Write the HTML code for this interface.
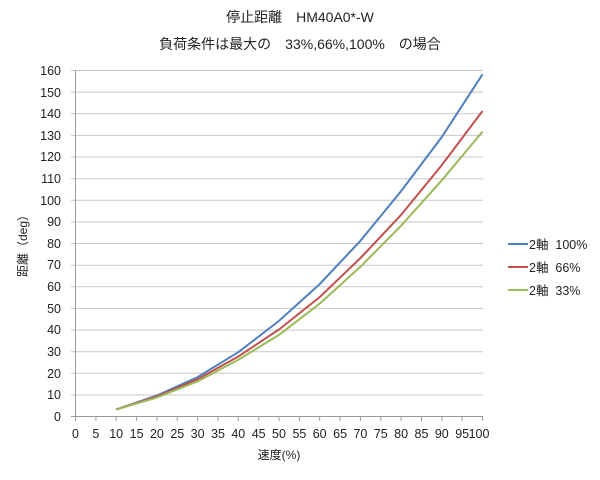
<!DOCTYPE html>
<html><head><meta charset="utf-8"><style>
body{margin:0;background:#fff}
svg text{font-family:"Liberation Sans","Noto Sans CJK JP",sans-serif;fill:#222}
</style></head><body>
<svg width="600" height="475" xmlns="http://www.w3.org/2000/svg">
<text x="300" y="22" font-size="14" text-anchor="middle">停止距離　HM40A0*-W</text>
<text x="300" y="49" font-size="14" text-anchor="middle">負荷条件は最大の　33%,66%,100%　の場合</text>
<g stroke="#c8c8c8" stroke-width="1">
<line x1="71" y1="70.5" x2="483" y2="70.5"/><line x1="71" y1="92.1" x2="483" y2="92.1"/><line x1="71" y1="113.8" x2="483" y2="113.8"/><line x1="71" y1="135.4" x2="483" y2="135.4"/><line x1="71" y1="157" x2="483" y2="157"/><line x1="71" y1="178.7" x2="483" y2="178.7"/><line x1="71" y1="200.3" x2="483" y2="200.3"/><line x1="71" y1="221.9" x2="483" y2="221.9"/><line x1="71" y1="243.5" x2="483" y2="243.5"/><line x1="71" y1="265.2" x2="483" y2="265.2"/><line x1="71" y1="286.8" x2="483" y2="286.8"/><line x1="71" y1="308.4" x2="483" y2="308.4"/><line x1="71" y1="330.1" x2="483" y2="330.1"/><line x1="71" y1="351.7" x2="483" y2="351.7"/><line x1="71" y1="373.3" x2="483" y2="373.3"/><line x1="71" y1="395" x2="483" y2="395"/>
</g>
<g stroke="#999" stroke-width="1">
<line x1="75.5" y1="70" x2="75.5" y2="416"/>
<line x1="71" y1="416.5" x2="483" y2="416.5"/>
<line x1="75.5" y1="416" x2="75.5" y2="421"/><line x1="95.9" y1="416" x2="95.9" y2="421"/><line x1="116.2" y1="416" x2="116.2" y2="421"/><line x1="136.6" y1="416" x2="136.6" y2="421"/><line x1="156.9" y1="416" x2="156.9" y2="421"/><line x1="177.3" y1="416" x2="177.3" y2="421"/><line x1="197.6" y1="416" x2="197.6" y2="421"/><line x1="218" y1="416" x2="218" y2="421"/><line x1="238.3" y1="416" x2="238.3" y2="421"/><line x1="258.7" y1="416" x2="258.7" y2="421"/><line x1="279" y1="416" x2="279" y2="421"/><line x1="299.4" y1="416" x2="299.4" y2="421"/><line x1="319.7" y1="416" x2="319.7" y2="421"/><line x1="340.1" y1="416" x2="340.1" y2="421"/><line x1="360.4" y1="416" x2="360.4" y2="421"/><line x1="380.8" y1="416" x2="380.8" y2="421"/><line x1="401.1" y1="416" x2="401.1" y2="421"/><line x1="421.5" y1="416" x2="421.5" y2="421"/><line x1="441.8" y1="416" x2="441.8" y2="421"/><line x1="462.2" y1="416" x2="462.2" y2="421"/><line x1="482.5" y1="416" x2="482.5" y2="421"/>
</g>
<g font-size="12.5" text-anchor="end">
<text x="61" y="75">160</text><text x="61" y="97">150</text><text x="61" y="118">140</text><text x="61" y="140">130</text><text x="61" y="161">120</text><text x="61" y="183">110</text><text x="61" y="205">100</text><text x="61" y="226">90</text><text x="61" y="248">80</text><text x="61" y="269">70</text><text x="61" y="291">60</text><text x="61" y="313">50</text><text x="61" y="334">40</text><text x="61" y="356">30</text><text x="61" y="378">20</text><text x="61" y="399">10</text><text x="61" y="421">0</text>
</g>
<g font-size="12.5" text-anchor="middle">
<text x="75.5" y="438">0</text><text x="95.9" y="438">5</text><text x="116.2" y="438">10</text><text x="136.6" y="438">15</text><text x="156.9" y="438">20</text><text x="177.3" y="438">25</text><text x="197.6" y="438">30</text><text x="218" y="438">35</text><text x="238.3" y="438">40</text><text x="258.7" y="438">45</text><text x="279" y="438">50</text><text x="299.4" y="438">55</text><text x="319.7" y="438">60</text><text x="340.1" y="438">65</text><text x="360.4" y="438">70</text><text x="380.8" y="438">75</text><text x="401.1" y="438">80</text><text x="421.5" y="438">85</text><text x="441.8" y="438">90</text><text x="462.2" y="438">95</text><text x="479" y="438">100</text>
</g>
<text x="279" y="459" font-size="12" text-anchor="middle">速度(%)</text>
<text transform="translate(27,243) rotate(-90)" font-size="12" text-anchor="middle">距離（deg）</text>
<g fill="none" stroke-width="2">
<polyline stroke="#4f81bd" points="116.2,409.5 156.9,395.5 197.6,377.1 238.3,352.2 279,320.9 319.7,284.1 360.4,240.8 401.1,191.1 441.8,137 482.5,74.3"/>
<polyline stroke="#c0504d" points="116.2,409.5 156.9,396.5 197.6,379.2 238.3,356.5 279,329.5 319.7,297.1 360.4,258.1 401.1,214.9 441.8,165.1 482.5,111"/>
<polyline stroke="#9bbb59" points="116.2,409.5 156.9,397.6 197.6,381.4 238.3,359.8 279,334.9 319.7,303.6 360.4,266.8 401.1,225.7 441.8,180.3 482.5,131.6"/>
</g>
<line x1="508" y1="244" x2="528" y2="244" stroke="#4f81bd" stroke-width="2"/>
<line x1="508" y1="267" x2="528" y2="267" stroke="#c0504d" stroke-width="2"/>
<line x1="508" y1="290" x2="528" y2="290" stroke="#9bbb59" stroke-width="2"/>
<g font-size="12.5"><text x="529" y="249">2軸&#160;&#160;100%</text><text x="529" y="272">2軸&#160;&#160;66%</text><text x="529" y="295">2軸&#160;&#160;33%</text></g>
</svg>
</body></html>
